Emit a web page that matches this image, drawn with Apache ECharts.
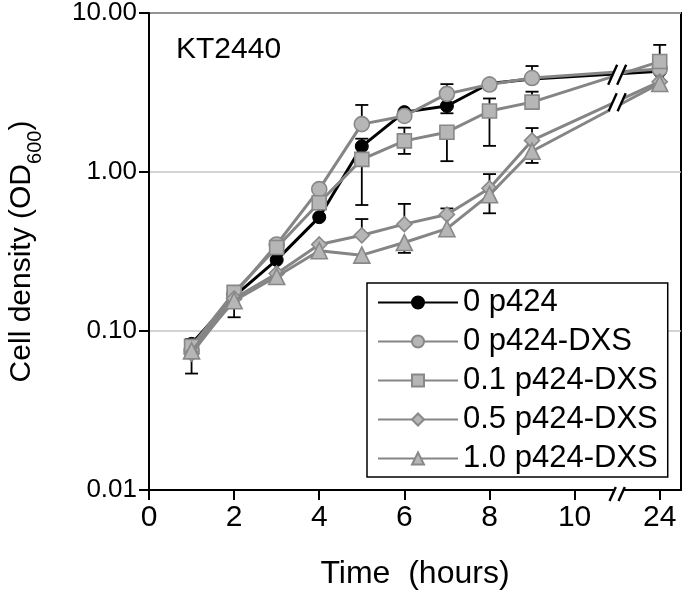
<!DOCTYPE html>
<html><head><meta charset="utf-8">
<script src="https://cdn.jsdelivr.net/npm/echarts@6/dist/echarts.min.js"></script>
<style>html,body{margin:0;padding:0;background:#fff}#c{width:685px;height:592px}</style>
</head><body><div id="c"></div>
<script>
// ---- data ----
const times = [1, 2, 3, 4, 5, 6, 7, 8, 9, 24];
const xTickLabels = ['0', '2', '4', '6', '8', '10', '24'];
const xTickTimes = [0, 2, 4, 6, 8, 10, 24];
const seriesNames = ['0 p424', '0 p424-DXS', '0.1 p424-DXS', '0.5 p424-DXS', '1.0 p424-DXS'];
const strainLabel = 'KT2440';

const od_p424   = [0.083, 0.165, 0.28, 0.52, 1.45, 2.38, 2.6, 3.6, 3.85, 4.3];
const od_dxs0   = [0.075, 0.17, 0.35, 0.78, 2.0, 2.25, 3.1, 3.55, 3.9, 4.45];
const od_dxs01  = [0.08, 0.175, 0.335, 0.64, 1.2, 1.57, 1.78, 2.42, 2.75, 4.95];
const od_dxs05  = [0.072, 0.16, 0.23, 0.35, 0.40, 0.47, 0.54, 0.79, 1.58, 3.7];
const od_dxs10  = [0.075, 0.155, 0.22, 0.32, 0.30, 0.36, 0.44, 0.72, 1.35, 3.6];

// error bar ends (null = not visible)
const lo_p424  = [0.054, 0.122, null, null, null, null, 2.34, null, null, null];
const hi_p424  = [0.089, null, null, null, 1.62, null, null, null, null, null];
const lo_dxs0  = [null, null, null, null, null, null, null, null, null, null];
const hi_dxs0  = [null, null, null, null, 2.64, null, 3.57, null, 4.64, null];
const lo_dxs01 = [null, null, null, null, 0.62, 1.3, 1.17, 1.46, null, null];
const hi_dxs01 = [null, null, null, null, null, 1.9, null, 2.9, 3.2, 6.3];
const lo_dxs05 = [null, null, null, null, null, null, null, null, null, null];
const hi_dxs05 = [null, null, null, null, 0.506, 0.63, 0.59, 0.97, 1.89, null];
const lo_dxs10 = [null, null, null, null, null, 0.31, null, 0.55, 1.14, null];
const hi_dxs10 = [null, null, null, null, null, null, null, null, null, null];

// ---- axis break (10 h .. 22 h removed) ----
const breakFrom = 10, breakTo = 22;
function pos(t) { return t > breakFrom ? t - (breakTo - breakFrom) : t; }

const FONT = 'Liberation Sans, Arial, sans-serif';
const GRAY_LINE = '#858585', GRAY_FILL = '#b6b6b6', GRAY_EDGE = '#888888';

const values = [od_p424, od_dxs0, od_dxs01, od_dxs05, od_dxs10];
const los = [lo_p424, lo_dxs0, lo_dxs01, lo_dxs05, lo_dxs10];
const his = [hi_p424, hi_dxs0, hi_dxs01, hi_dxs05, hi_dxs10];
const symbols = ['circle', 'circle', 'rect', 'diamond', 'triangle'];
const sizes = [13, 15, 14, 15, 16];

function errRender(params, api) {
  const x = api.value(0), m = api.value(1), lo = api.value(2), hi = api.value(3);
  const pm = api.coord([x, m]);
  const half = 6.5, children = [];
  [lo, hi].forEach(function (v) {
    if (v === m) return;
    const p = api.coord([x, v]);
    children.push({type: 'line', shape: {x1: pm[0], y1: pm[1], x2: p[0], y2: p[1]}, style: {stroke: '#000', lineWidth: 1.8}});
    children.push({type: 'line', shape: {x1: p[0] - half, y1: p[1], x2: p[0] + half, y2: p[1]}, style: {stroke: '#000', lineWidth: 1.8}});
  });
  return {type: 'group', children: children};
}

function breakRender(params, api) {
  const p = api.coord([api.value(0), api.value(1)]);
  const dy = api.value(2);
  const x0 = p[0], y0 = p[1] + api.value(3);
  const dx = dy * 0.45, g = 4.5;
  return {type: 'group', children: [
    {type: 'polygon', shape: {points: [[x0 - g - dx, y0 + dy], [x0 - g + dx, y0 - dy], [x0 + g + dx, y0 - dy], [x0 + g - dx, y0 + dy]]}, style: {fill: '#fff'}},
    {type: 'line', shape: {x1: x0 - g - dx, y1: y0 + dy, x2: x0 - g + dx, y2: y0 - dy}, style: {stroke: '#000', lineWidth: 2.4}},
    {type: 'line', shape: {x1: x0 + g - dx, y1: y0 + dy, x2: x0 + g + dx, y2: y0 - dy}, style: {stroke: '#000', lineWidth: 2.4}}
  ]};
}

const series = [];
// error bars first (drawn beneath)
values.forEach(function (vals, si) {
  const rows = [];
  vals.forEach(function (v, i) {
    const lo = los[si][i], hi = his[si][i];
    if (lo == null && hi == null) return;
    rows.push([pos(times[i]), v, lo == null ? v : lo, hi == null ? v : hi]);
  });
  series.push({type: 'custom', renderItem: errRender, data: rows, z: 1, silent: true,
    encode: {x: 0, y: [1, 2, 3]}});
});
values.forEach(function (vals, si) {
  const black = si === 0;
  series.push({
    name: seriesNames[si], type: 'line', z: 3 + si,
    data: vals.map(function (v, i) { return [pos(times[i]), v]; }),
    symbol: symbols[si], symbolSize: sizes[si],
    lineStyle: {color: black ? '#000' : GRAY_LINE, width: 3},
    itemStyle: black ? {color: '#000', borderColor: '#000', borderWidth: 1}
                     : {color: GRAY_FILL, borderColor: GRAY_EDGE, borderWidth: 1.6}
  });
});
// break marks on lines and on axis (at middle of the skipped span)
function geoInterp(a, b, f) { return Math.exp(Math.log(a) * (1 - f) + Math.log(b) * f); }
const i9 = times.indexOf(9), i24 = times.indexOf(24);
const fBreak = (pos(breakFrom) + 1 - pos(9)) / (pos(24) - pos(9));
const breakX = pos(breakFrom) + 1;
series.push({type: 'custom', renderItem: breakRender, z: 20, silent: true, clip: false,
  data: [
    [breakX, geoInterp(od_p424[i9], od_p424[i24], fBreak), 10, 1],
    [breakX, geoInterp(od_dxs05[i9], od_dxs05[i24], fBreak), 9, 1],
    [breakX, 0.01, 7, 4]
  ], encode: {x: 0, y: 1}});

const chart = echarts.init(document.getElementById('c'), null, {renderer: 'canvas'});
chart.setOption({
  animation: false,
  backgroundColor: '#fff',
  textStyle: {fontFamily: FONT},
  title: {text: strainLabel, left: 171, top: 30,
    textStyle: {fontFamily: FONT, fontSize: 30, fontWeight: 'normal', color: '#000'}},
  grid: {left: 149, right: 4, top: 13, bottom: 102, containLabel: false, outerBoundsMode: 'none',
    show: true, borderColor: '#000', borderWidth: 2, backgroundColor: 'transparent'},
  legend: {
    orient: 'vertical', left: 367, top: 283,
    data: seriesNames,
    backgroundColor: '#fff', borderColor: '#000', borderWidth: 1.5,
    padding: [4, 10, 3, 10], itemGap: 8, itemWidth: 80, itemHeight: 15,
    textStyle: {fontFamily: FONT, fontSize: 31, color: '#000', lineHeight: 30},
    selectedMode: false
  },
  xAxis: {
    type: 'value', min: 0, max: 12.5,
    name: 'Time  (hours)', nameLocation: 'middle', nameGap: 68,
    nameTextStyle: {fontFamily: FONT, fontSize: 32, color: '#000'},
    axisLine: {show: true, onZero: false, lineStyle: {color: '#000', width: 2}},
    axisTick: {show: true, length: 10, lineStyle: {color: '#000', width: 2}, customValues: xTickTimes.map(pos)},
    axisLabel: {customValues: xTickTimes.map(pos), fontFamily: FONT, fontSize: 30, color: '#000', margin: 13,
      formatter: function (v) { const k = xTickTimes.map(pos).indexOf(v); return k >= 0 ? xTickLabels[k] : ''; }},
    splitLine: {show: false}
  },
  yAxis: {
    type: 'log', logBase: 10, min: 0.01, max: 10,
    name: '{a|Cell density (OD}{b|600}{a|)}', nameLocation: 'middle', nameGap: 112, nameRotate: 90,
    nameTextStyle: {fontFamily: FONT, fontSize: 30, color: '#000',
      rich: {a: {fontFamily: FONT, fontSize: 30, color: '#000'}, b: {fontFamily: FONT, fontSize: 20, color: '#000', verticalAlign: 'bottom', padding: [0, 0, -8, 0]}}},
    axisLine: {show: true, lineStyle: {color: '#000', width: 2}},
    axisTick: {show: true, length: 10, lineStyle: {color: '#000', width: 2}},
    minorTick: {show: false},
    axisLabel: {fontFamily: FONT, fontSize: 26, color: '#000', margin: 12,
      formatter: function (v) { return Number(v).toFixed(2); }},
    splitLine: {show: true, lineStyle: {color: '#c4c4c4', width: 1.5}}
  },
  series: series
});
</script>
</body></html>
